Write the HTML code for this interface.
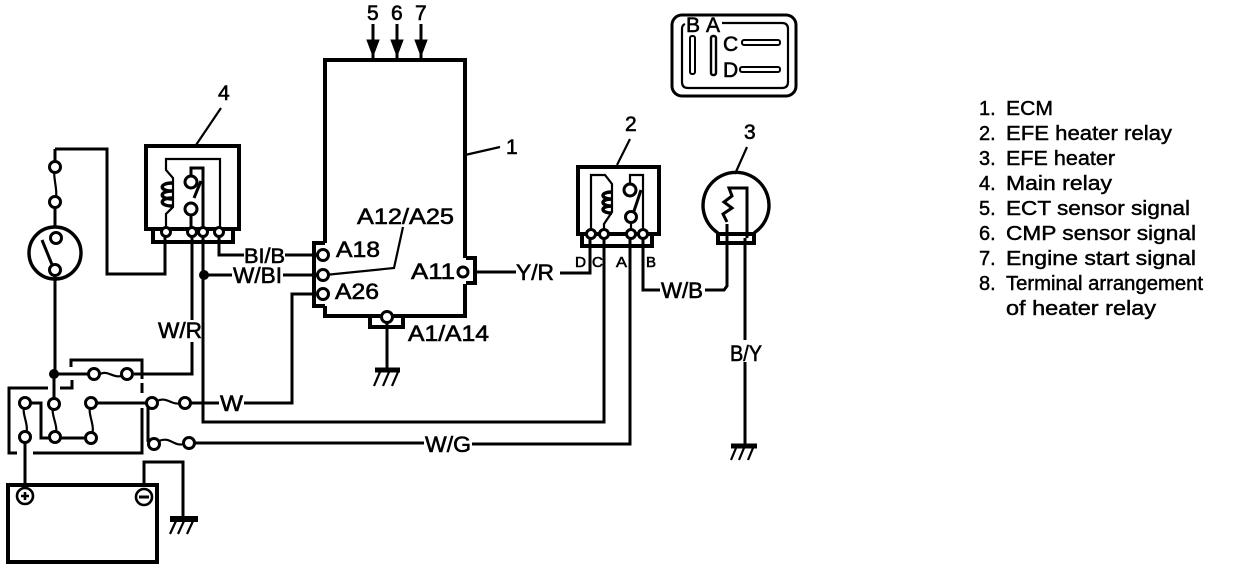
<!DOCTYPE html>
<html><head><meta charset="utf-8"><style>
html,body{margin:0;padding:0;background:#fff}
svg{display:block}
text{font-family:"Liberation Sans",sans-serif;fill:#000;stroke:#000;stroke-width:.6}
.w{fill:none;stroke:#000;stroke-width:3;stroke-linejoin:miter}
.t{fill:none;stroke:#000;stroke-width:2.2}
.b{fill:none;stroke:#000;stroke-width:4}
.c{fill:#fff;stroke:#000;stroke-width:3}
.l{font-size:22px}
.s{font-size:21px}
.li{font-size:20px;stroke-width:.45}
</style></head><body>
<svg width="1248" height="572" viewBox="0 0 1248 572" xmlns="http://www.w3.org/2000/svg">
<rect width="1248" height="572" fill="#fff"/>

<!-- ECM -->
<path class="b" d="M325 243V60H465V258M465 284V316H325V306"/>
<path class="b" d="M325 243H314V306H325"/>
<path class="b" d="M466 258H475V283H466"/>
<path class="b" d="M370 318V327H403V318"/>
<path class="t" d="M465 155L500 147"/>
<path class="t" d="M325 275L394 268L403 227"/>
<path class="w" d="M387 318V369"/>
<path d="M375 370H400" stroke="#000" stroke-width="5"/>
<path class="t" d="M380 372L374 386M389 372L383 386M398 372L392 386"/>
<circle class="c" cx="323" cy="255" r="5.5"/><circle class="c" cx="323" cy="275" r="5.5"/><circle class="c" cx="323" cy="294" r="5.5"/>
<circle class="c" cx="463" cy="272" r="5"/><circle class="c" cx="387" cy="317" r="5.5"/>

<!-- arrows -->
<path class="w" d="M373 24V60M397 24V60M421 24V60"/>
<path d="M367 40H379L373 56ZM391 40H403L397 56ZM415 40H427L421 56Z" stroke="#000"/>
<text class="s" x="367" y="20">5</text><text class="s" x="391" y="20">6</text><text class="s" x="415" y="20">7</text>
<text class="s" x="506" y="154">1</text>

<!-- ECM labels -->
<text class="l" x="357" y="224" textLength="97" lengthAdjust="spacingAndGlyphs">A12/A25</text>
<text class="l" x="336" y="257" textLength="44" lengthAdjust="spacingAndGlyphs">A18</text>
<text class="l" x="335" y="299" textLength="44" lengthAdjust="spacingAndGlyphs">A26</text>
<text class="l" x="411" y="279" textLength="44" lengthAdjust="spacingAndGlyphs">A11</text>
<text class="l" x="408" y="341" textLength="81" lengthAdjust="spacingAndGlyphs">A1/A14</text>

<!-- left wiring -->
<path class="w" d="M55 202V228M55 149V167"/>
<path class="w" d="M55 149H107V274H165V240"/>
<path class="t" d="M55 167C52 178 59 190 55 202"/>
<circle cx="55" cy="253" r="26" fill="none" stroke="#000" stroke-width="3.4"/>
<circle class="c" cx="55" cy="167" r="5.5"/><circle class="c" cx="55" cy="202" r="5.5"/>
<path class="w" d="M42 240L53 267"/>
<circle class="c" cx="56" cy="238" r="5.5"/><circle class="c" cx="55" cy="270" r="5.5"/>
<path class="w" d="M55 275V374"/>

<!-- main relay -->
<path class="b" d="M146 146H239V229H146Z"/>
<path class="b" d="M153 230V242H233V230"/>
<path class="t" d="M166 231V214L173 207V178L166 170V159H220V231"/>
<path d="M172 183c-13 0-13 8 0 8M172 191c-13 0-13 8 0 8M172 198c-13 0-13 8 0 8" fill="none" stroke="#000" stroke-width="3.4"/>
<path class="w" d="M203 231V168H191V176"/>
<path class="w" d="M191 209V231"/>
<path class="w" d="M201 181L194 198"/>
<circle class="c" cx="191" cy="182" r="6"/><circle class="c" cx="191" cy="209" r="6"/>
<path class="w" d="M165 232V240M192 232V320M203 232V422H604V235"/>
<path class="w" d="M219 232V255H244"/>
<circle cx="204" cy="275" r="5" fill="#000"/>
<path class="w" d="M204 275H232"/>
<circle class="c" cx="166" cy="232" r="4.5"/><circle class="c" cx="192" cy="232" r="4.5"/><circle class="c" cx="203" cy="232" r="4.5"/><circle class="c" cx="219" cy="232" r="4.5"/>
<text class="s" x="244" y="263" textLength="41" lengthAdjust="spacingAndGlyphs">BI/B</text>
<text class="l" x="233" y="283" textLength="49" lengthAdjust="spacingAndGlyphs">W/BI</text>
<path class="w" d="M285 255H318M283 275H318M318 294H292V403H244"/>
<text class="l" x="158" y="338" textLength="44" lengthAdjust="spacingAndGlyphs">W/R</text>
<text class="l" x="220" y="411" textLength="23" lengthAdjust="spacingAndGlyphs">W</text>
<text class="l" x="425" y="452" textLength="46" lengthAdjust="spacingAndGlyphs">W/G</text>
<text class="l" x="516" y="280" textLength="38" lengthAdjust="spacingAndGlyphs">Y/R</text>
<path class="w" d="M475 272H516M560 273H590V236"/>
<path class="w" d="M192 342V374H134"/>
<path class="w" d="M630 236V444H472"/>
<text class="s" x="218" y="100">4</text>
<path class="t" d="M221 108L196 145"/>

<!-- fuse box -->
<circle cx="54" cy="374" r="5" fill="#000"/>
<path class="w" d="M54 374H90M54 374V398"/>
<path class="t" d="M100 374C108 370 112 378 122 376"/>
<circle class="c" cx="94" cy="374" r="5.5"/><circle class="c" cx="127" cy="374" r="5.5"/>
<path class="w" d="M71 367V360H142V379M142 383V393M142 408V453H33M17 453H9V388H48M60 388H72V380"/>
<path class="w" d="M25 403H41V438H91"/>
<path class="t" d="M25 403C20 415 31 424 25 437M54 404C49 415 60 425 55 437M91 403C86 415 97 425 91 438"/>
<path class="w" d="M91 403H152M148 403V441L153 444"/>
<path class="t" d="M157 401C167 396 172 406 181 403M159 441C170 436 174 447 184 444"/>
<circle class="c" cx="25" cy="403" r="5.5"/><circle class="c" cx="25" cy="437" r="5.5"/>
<circle class="c" cx="54" cy="404" r="5.5"/><circle class="c" cx="55" cy="437" r="5.5"/>
<circle class="c" cx="91" cy="403" r="5.5"/><circle class="c" cx="91" cy="438" r="5.5"/>
<circle class="c" cx="152" cy="403" r="5.5"/><circle class="c" cx="185" cy="403" r="5.5"/>
<circle class="c" cx="154" cy="444" r="5.5"/><circle class="c" cx="189" cy="443" r="5.5"/>
<path class="w" d="M190 403H219M194 443H424"/>
<path class="w" d="M25 442V486"/>

<!-- battery -->
<path class="b" d="M8 485H157V562H8Z"/>
<circle cx="25" cy="496" r="8" fill="#fff" stroke="#000" stroke-width="2.6"/>
<path d="M21 496H29M25 492V500" stroke="#000" stroke-width="2.6"/>
<circle cx="144" cy="497" r="8" fill="#fff" stroke="#000" stroke-width="2.6"/>
<path d="M139 497H149" stroke="#000" stroke-width="3"/>
<path class="w" d="M144 487V462H183V518"/>
<path d="M170 519H198" stroke="#000" stroke-width="6"/>
<path class="t" d="M176 521L170 534M184 521L178 534M193 521L187 534"/>

<!-- EFE relay -->
<path class="b" d="M578 167H659V234H578Z"/>
<path class="b" d="M582 236V246H652V236"/>
<path class="t" d="M591 234V175H605L612 184V212L604 224V234"/>
<path d="M612 192c-12 0-12 7 0 7M612 199c-12 0-12 7 0 7M612 206c-12 0-12 7 0 7" fill="none" stroke="#000" stroke-width="3.4"/>
<path class="t" d="M643 234V175H630V188"/>
<path class="w" d="M641 190L634 211"/>
<circle class="c" cx="630" cy="190" r="6"/><circle class="c" cx="631" cy="217" r="5.5"/>
<path class="t" d="M631 222V234"/>
<path class="w" d="M643 236V290H660M705 290H724L727 286V224"/>
<circle class="c" cx="591" cy="234" r="4.5"/><circle class="c" cx="604" cy="234" r="4.5"/><circle class="c" cx="631" cy="234" r="4.5"/><circle class="c" cx="643" cy="234" r="4.5"/>
<text x="575" y="267" font-size="15" textLength="11" lengthAdjust="spacingAndGlyphs">D</text>
<text x="592" y="267" font-size="15" textLength="11" lengthAdjust="spacingAndGlyphs">C</text>
<text x="616" y="267" font-size="15" textLength="11" lengthAdjust="spacingAndGlyphs">A</text>
<text x="646" y="267" font-size="15" textLength="10" lengthAdjust="spacingAndGlyphs">B</text>
<text class="l" x="661" y="298" textLength="42" lengthAdjust="spacingAndGlyphs">W/B</text>
<text class="s" x="625" y="131">2</text>
<path class="t" d="M630 139L617 165"/>

<!-- bulb -->
<path d="M718 233A33 33 0 1 1 754 233" fill="none" stroke="#000" stroke-width="3.4"/>
<path class="b" d="M718 232V243H754V234H718"/>
<path d="M727 222L723 214L732 208L724 202L732 196L729 188H747V238" fill="none" stroke="#000" stroke-width="3"/>
<path class="w" d="M727 224V286M745 238V340M745 362V444"/>
<text class="l" x="730" y="361" textLength="32" lengthAdjust="spacingAndGlyphs">B/Y</text>
<path d="M731 446H757" stroke="#000" stroke-width="5"/>
<path class="t" d="M736 448L731 460M744 448L739 460M753 448L748 460"/>
<text class="s" x="744" y="139">3</text>
<path class="t" d="M747 147L735 174"/>

<!-- terminal arrangement -->
<rect x="672" y="15" width="124" height="81" rx="10" fill="none" stroke="#000" stroke-width="3"/>
<path class="t" d="M722 23H782Q788 23 788 29V82Q788 88 782 88H688Q682 88 682 82V29Q682 25 685 24"/>
<rect x="690" y="36" width="5" height="38" rx="2" fill="#fff" stroke="#000" stroke-width="2"/>
<rect x="711" y="36" width="5" height="39" rx="2" fill="#fff" stroke="#000" stroke-width="2.4"/>
<rect x="742" y="40" width="38" height="5" rx="2" fill="#fff" stroke="#000" stroke-width="2"/>
<rect x="740" y="67" width="40" height="5" rx="2" fill="#fff" stroke="#000" stroke-width="2"/>
<text class="s" x="686" y="32">B</text><text class="s" x="706" y="32">A</text>
<text class="s" x="723" y="51">C</text><text class="s" x="723" y="77">D</text>

<!-- list -->
<text class="li" x="979" y="115">1.</text><text class="li" x="1006" y="115" textLength="47" lengthAdjust="spacingAndGlyphs">ECM</text>
<text class="li" x="979" y="140">2.</text><text class="li" x="1006" y="140" textLength="166" lengthAdjust="spacingAndGlyphs">EFE heater relay</text>
<text class="li" x="979" y="165">3.</text><text class="li" x="1006" y="165" textLength="109" lengthAdjust="spacingAndGlyphs">EFE heater</text>
<text class="li" x="979" y="190">4.</text><text class="li" x="1006" y="190" textLength="106" lengthAdjust="spacingAndGlyphs">Main relay</text>
<text class="li" x="979" y="215">5.</text><text class="li" x="1006" y="215" textLength="184" lengthAdjust="spacingAndGlyphs">ECT sensor signal</text>
<text class="li" x="979" y="240">6.</text><text class="li" x="1006" y="240" textLength="190" lengthAdjust="spacingAndGlyphs">CMP sensor signal</text>
<text class="li" x="979" y="265">7.</text><text class="li" x="1006" y="265" textLength="190" lengthAdjust="spacingAndGlyphs">Engine start signal</text>
<text class="li" x="979" y="290">8.</text><text class="li" x="1006" y="290" textLength="197" lengthAdjust="spacingAndGlyphs">Terminal arrangement</text>
<text class="li" x="1006" y="315" textLength="150" lengthAdjust="spacingAndGlyphs">of heater relay</text>
</svg>
</body></html>
